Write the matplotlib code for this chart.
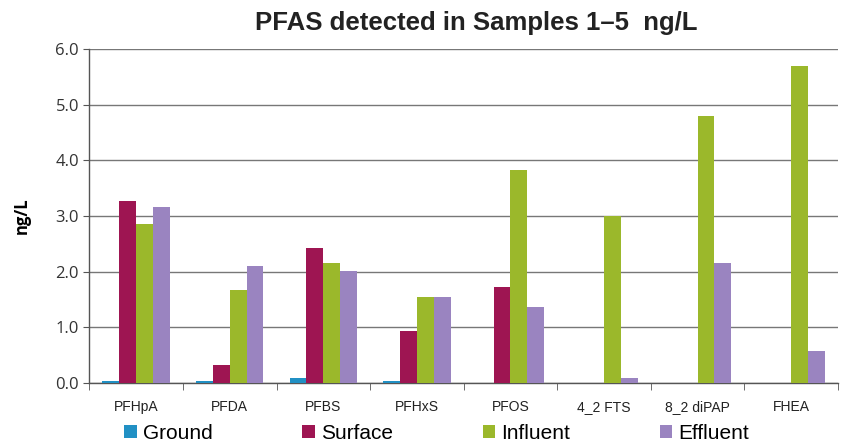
import matplotlib.pyplot as plt
import numpy as np

categories = ['PFHpA', 'PFDA', 'PFBS', 'PFHxS', 'PFOS', '4_2 FTS', '8_2 diPAP', 'FHEA']
ground = [0.04, 0.04, 0.10, 0.04, 0.0, 0.0, 0.0, 0.0]
surface = [3.27, 0.33, 2.43, 0.94, 1.73, 0.0, 0.0, 0.0]
influent = [2.85, 1.68, 2.15, 1.55, 3.83, 3.00, 4.80, 5.70]
effluent = [3.17, 2.10, 2.02, 1.55, 1.36, 0.10, 2.15, 0.57]
series_names = ['Ground', 'Surface', 'Influent', 'Effluent']
colors = ['#2190c4', '#9e1552', '#9bb82b', '#9a84c0']

fig = plt.figure(figsize=(8.43, 4.47), dpi=100)
ax = fig.add_axes([0.106, 0.143, 0.888, 0.747])

x = np.arange(len(categories))
w = 0.18
for i, (vals, name) in enumerate(zip([ground, surface, influent, effluent], series_names)):
    ax.bar(x + (i - 1.5) * w, vals, w, color=colors[i], label=name, zorder=3)

ax.set_xlim(-0.5, len(categories) - 0.5)
ax.set_ylim(0, 6)
ax.set_yticks(np.arange(0, 7, 1))
ax.set_yticklabels([f'{v:.1f}' for v in np.arange(0, 7, 1)], fontsize=12,
                   family='Open Sans', color='#333333')
ax.yaxis.grid(True, color='#777777', linewidth=1.0, zorder=0)

ax.set_xticks(x)
ax.set_xticklabels(categories, fontsize=10, family='Liberation Sans', color='#222222')
ax.set_xticks(np.arange(-0.5, len(categories)), minor=True)
ax.tick_params(axis='x', which='major', length=0, pad=12)
ax.tick_params(axis='x', which='minor', length=5, color='#555555', direction='out')
ax.tick_params(axis='y', length=4, color='#555555', direction='out')

for s in ['top', 'right']:
    ax.spines[s].set_visible(False)
for s in ['left', 'bottom']:
    ax.spines[s].set_color('#555555')
    ax.spines[s].set_linewidth(1.0)

ax.set_ylabel('ng/L', fontsize=12, fontweight='bold', family='Open Sans', labelpad=18)
fig.text(0.565, 0.948, 'PFAS detected in Samples 1\u20135  ng/L', ha='center', va='center',
         fontsize=18.5, fontweight='bold', family='Liberation Sans', color='#222222')

fig.legend(loc='center', bbox_to_anchor=(0.518, 0.03), ncol=4, frameon=False,
           prop={'family': 'Liberation Sans', 'size': 15}, handlelength=0.6,
           handleheight=0.6, handletextpad=0.3, columnspacing=4.3)

fig.savefig('out.png', dpi=100)
